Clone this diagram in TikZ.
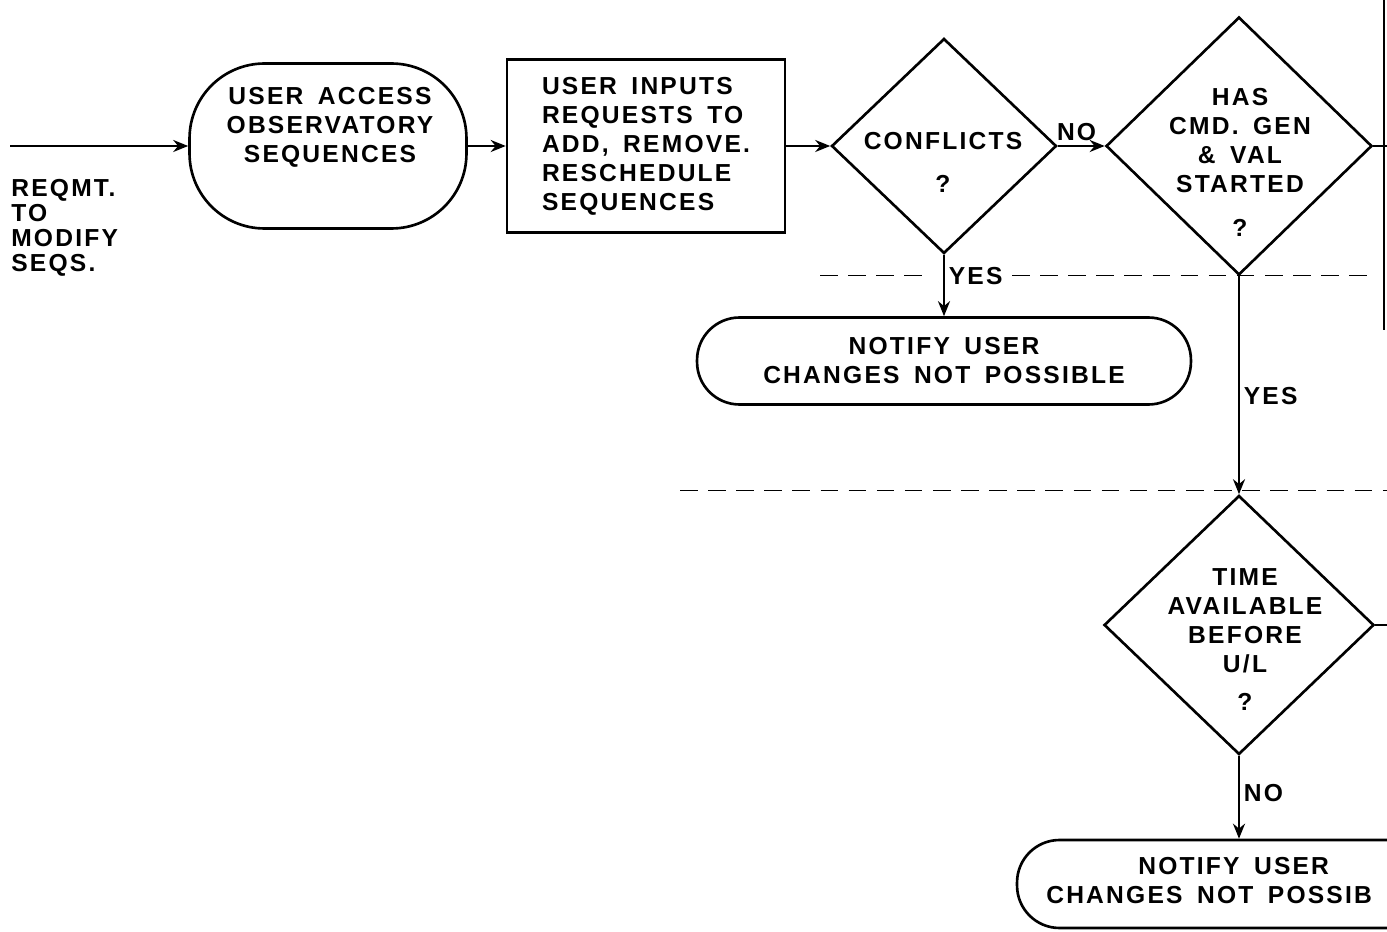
\documentclass[tikz,border=0pt]{standalone}
\usepackage{fontspec}
\newfontfamily\chartfont{Liberation Sans}[LetterSpace=9, WordSpace=1.6]
\usetikzlibrary{shapes.geometric, arrows.meta}

\begin{document}
\begin{tikzpicture}[
    x = 0.02cm, y = -0.02cm, % one unit per pixel of the scan
    > = {Stealth[length=3mm, width=2.4mm]}, % small flowchart heads
    line width = 1.5pt,
    font = \chartfont\bfseries\fontsize{14}{16.5}\selectfont,
    term/.style={rectangle, draw, rounded corners=0.85cm, align=center, inner sep=0pt},
    proc/.style={rectangle, draw, align=left, inner sep=0pt},
    dec/.style={diamond, draw, inner sep=0pt},
    txt/.style={align=center, inner sep=0pt},
    lbl/.style={inner sep=2pt},
    scan/.style={line width=0.5pt, dash pattern=on 10pt off 6pt}
]

% --- frame of the scanned page ---
\useasboundingbox (0,0) rectangle (1387,932);
\clip (0,0) rectangle (1387,932);

% --- TOP ROW: request -> access -> inputs -> checks ---
% Draw the shapes
\node[term, rounded corners=1.5cm, minimum width=5.54cm, minimum height=3.3cm] (acc) at (328,146) {};
\node[txt] (acct) at (330,127) {USER ACCESS\\OBSERVATORY\\SEQUENCES};
\node[proc, minimum width=5.56cm, minimum height=3.46cm] (inp) at (646,146)
    {USER INPUTS\\REQUESTS TO\\ADD, REMOVE.\\RESCHEDULE\\SEQUENCES};
\node[dec, minimum width=4.5cm, minimum height=4.3cm] (conf) at (944,146) {};
\node[txt] (conft) at (943,162) {CONFLICTS\\[0.28cm]?};
\node[dec, minimum width=5.32cm, minimum height=5.16cm] (cmd) at (1239,146) {};
\node[txt] (cmdt) at (1240,162) {HAS\\CMD. GEN\\\& VAL\\STARTED\\[0.3cm]?};

% The incoming request
\coordinate (src) at (10,146);
\node[txt, align=left, anchor=north west, font=\chartfont\bfseries\fontsize{14}{14.2}\selectfont] (req) at (10,178)
    {REQMT.\\TO\\MODIFY\\SEQS.};

% --- LOWER PART: notices and the time check ---
\node[term, minimum width=9.88cm, minimum height=1.74cm] (nfy1) at (944,361)
    {NOTIFY USER\\CHANGES NOT POSSIBLE};
\node[dec, minimum width=5.4cm, minimum height=5.18cm] (time) at (1239,625) {};
\node[txt] (timet) at (1245,640) {TIME\\AVAILABLE\\BEFORE\\U/L\\[0.18cm]?};
\node[term, minimum width=8.88cm, minimum height=1.76cm] (nfy2) at (1239,884) {};
\node[txt, align=left, anchor=west] (nfy2t) at (1045,881)
    {\hspace*{1.84cm}NOTIFY USER\\CHANGES NOT POSSIB};

% Exits running off the right edge
\coordinate (cmdout) at (1392,146);
\coordinate (timeout) at (1392,625);

% Draw the flow arrows
\draw[->] (src) -- (acc.west);
\draw[->] (acc.east) -- (inp.west);
\draw[->] (inp.east) -- (conf.west);
\draw[->] (conf.east) -- node[lbl, above, pos=0.4] {NO} (cmd.west);
\draw (cmd.east) -- (cmdout);
\draw[->] (conf.south) -- node[lbl, right, pos=0.35] {YES} (nfy1.north);
\draw[->] (cmd.south) -- node[lbl, right, pos=0.55] {YES} (time.north);
\draw (time.east) -- (timeout);
\draw[->] (time.south) -- node[lbl, right, pos=0.45] {NO} (nfy2.north);

% Ruling marks left on the scan
\draw[scan] (820,275) -- (932,275);
\draw[scan] (1012,275) -- (1370,275);
\draw[scan] (680,490) -- (1387,490);
\draw[line width=1pt] (1384,0) -- (1384,330);

\end{tikzpicture}
\end{document}
